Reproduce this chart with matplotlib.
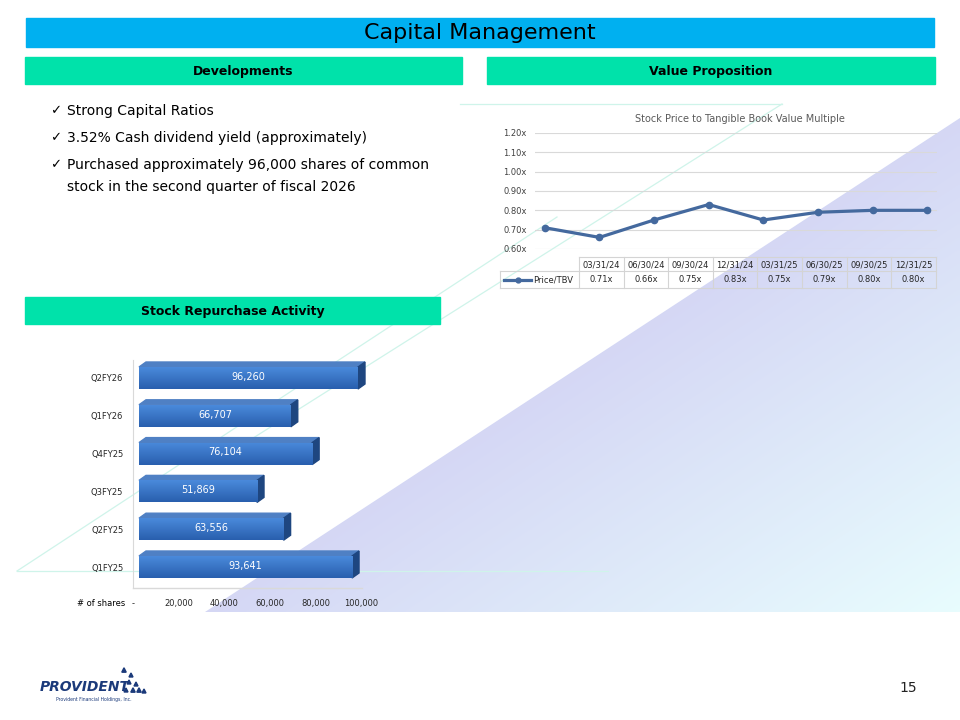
import matplotlib.pyplot as plt
import numpy as np
from matplotlib.patches import Rectangle, Polygon
from matplotlib.transforms import ScaledTranslation

W, H = 960, 720

# --- data ---
dates = ['03/31/24', '06/30/24', '09/30/24', '12/31/24',
         '03/31/25', '06/30/25', '09/30/25', '12/31/25']
ptbv = [0.71, 0.66, 0.75, 0.83, 0.75, 0.79, 0.80, 0.80]
ptbv_ticks = [0.60, 0.70, 0.80, 0.90, 1.00, 1.10, 1.20]

quarters = ['Q1FY25', 'Q2FY25', 'Q3FY25', 'Q4FY25', 'Q1FY26', 'Q2FY26']
shares = [93641, 63556, 51869, 76104, 66707, 96260]
share_ticks = [0, 20000, 40000, 60000, 80000, 100000]
share_tick_labels = ['-', '20,000', '40,000', '60,000', '80,000', '100,000']

bullets = ['Strong Capital Ratios',
           '3.52% Cash dividend yield (approximately)',
           'Purchased approximately 96,000 shares of common\nstock in the second quarter of fiscal 2026']

TITLE_BLUE = '#00B0F0'
HEAD_GREEN = '#00E2AA'
LINE_BLUE = '#44699E'
NAVY = '#1B3A7A'

fig = plt.figure(figsize=(9.6, 7.2), dpi=100)
bg = fig.add_axes([0, 0, 1, 1])
bg.set_xlim(0, W)
bg.set_ylim(H, 0)
bg.axis('off')


def px_axes(x0, y0, x1, y1):
    return fig.add_axes([x0 / W, 1 - y1 / H, (x1 - x0) / W, (y1 - y0) / H])


# background: lavender -> light cyan triangle
tri = Polygon([(205, 612), (960, 118), (960, 612)], closed=True,
              facecolor='none', edgecolor='none')
bg.add_patch(tri)
gx, gy = np.meshgrid(np.linspace(0, W, 240), np.linspace(0, H, 180))
t = np.clip((gx - 205) / 755 + (gy - 118) / 494 - 1, 0, 1)[..., None]
lav = np.array([0.835, 0.843, 0.960])
cyan = np.array([0.910, 0.990, 0.995])
img = lav * (1 - t) + cyan * t
im = bg.imshow(img, extent=(0, W, H, 0), origin='upper', zorder=0,
               interpolation='bilinear')
im.set_clip_path(tri)
bg.set_aspect('auto')
bg.set_xlim(0, W)
bg.set_ylim(H, 0)

# faint decorative lines
deco = '#CFF4EA'
bg.plot([17, 608], [571, 571], color=deco, lw=0.9, zorder=1)
bg.plot([17, 557], [571, 217], color=deco, lw=0.9, zorder=1)
bg.plot([250, 782], [440, 104], color=deco, lw=0.9, zorder=1)
bg.plot([460, 782], [104, 104], color=deco, lw=0.9, zorder=1)

# header bars
bg.add_patch(Rectangle((26, 18), 908, 29, color=TITLE_BLUE, zorder=2))
bg.text(480, 33, 'Capital Management', fontsize=16, ha='center', va='center', zorder=3)
for (x0, y0, x1, y1, label) in [(25, 57, 462, 84, 'Developments'),
                                (487, 57, 935, 84, 'Value Proposition'),
                                (25, 297, 440, 324, 'Stock Repurchase Activity')]:
    bg.add_patch(Rectangle((x0, y0), x1 - x0, y1 - y0, color=HEAD_GREEN, zorder=2))
    bg.text((x0 + x1) / 2, (y0 + y1) / 2 + 0.5, label, fontsize=9, fontweight='bold',
            ha='center', va='center', zorder=3)

# bullets
for yy, txt in zip([111, 138, 165], bullets):
    bg.text(50, yy, '\u2713', fontsize=9.5, ha='left', va='center')
    bg.text(67, yy - 7, txt, fontsize=10, ha='left', va='top', linespacing=1.75)

# --- line chart: Price/TBV ---
bg.text(740, 119, 'Stock Price to Tangible Book Value Multiple', fontsize=7,
        color='#595959', ha='center', va='center')
ax1 = px_axes(535, 133, 937, 249)
ax1.set_facecolor('none')
ax1.set_xlim(-0.18, len(dates) - 1 + 0.18)
ax1.set_ylim(0.6, 1.2)
ax1.set_yticks(ptbv_ticks)
ax1.set_yticklabels([f'{v:.2f}x' for v in ptbv_ticks], fontsize=6, color='#404040')
ax1.set_xticks([])
ax1.tick_params(axis='y', length=0, pad=6)
ax1.grid(axis='y', color='#D9D9D9', lw=0.8)
ax1.set_axisbelow(True)
for s in ax1.spines.values():
    s.set_visible(False)
ax1.plot(range(len(dates)), ptbv, color=LINE_BLUE, lw=2.3, marker='o', ms=4.5,
         clip_on=False)

# data table under the line chart
col_x = [579 + i * 44.6 for i in range(len(dates) + 1)]
grid_c = '#D4D4D4'
bg.plot([col_x[0], col_x[-1]], [257, 257], color=grid_c, lw=0.8)
bg.plot([500, col_x[-1]], [271, 271], color=grid_c, lw=0.8)
bg.plot([500, col_x[-1]], [288, 288], color=grid_c, lw=0.8)
bg.plot([500, 500], [271, 288], color=grid_c, lw=0.8)
for cx in col_x:
    bg.plot([cx, cx], [257, 288], color=grid_c, lw=0.8)
for i, (d, v) in enumerate(zip(dates, ptbv)):
    xc = (col_x[i] + col_x[i + 1]) / 2
    bg.text(xc, 264.5, d, fontsize=6, ha='center', va='center', color='#262626')
    bg.text(xc, 280, f'{v:.2f}x', fontsize=6, ha='center', va='center', color='#262626')
bg.plot([504, 531], [280, 280], color=LINE_BLUE, lw=2.3)
bg.plot([517.5], [280], marker='o', ms=3.5, color=LINE_BLUE)
bg.text(533, 280, 'Price/TBV', fontsize=6, ha='left', va='center', color='#262626')

# --- bar chart: stock repurchases ---
sc = 0.002275          # px per share
zero_px = 139
cat_px = 37.8          # px per category
ax2 = px_axes(133, 360, 373, 588)
ax2.set_facecolor('none')
xlim2 = (-(zero_px - 133) / sc, (373 - zero_px) / sc)
ylim2 = (-21 / cat_px, len(quarters) - 1 + 18 / cat_px)
ypos = np.arange(len(quarters))
bh = 22 / cat_px
dx = 7 / sc
dy = 5 / cat_px

# vertical gradient for the bar front faces
top_c = np.array([0.29, 0.54, 0.86])
bot_c = np.array([0.16, 0.37, 0.68])
g = np.linspace(0, 1, 64)[:, None, None]
grad = top_c * (1 - g) + bot_c * g

bars = ax2.barh(ypos, shares, height=bh, color='none', zorder=3)
for bar, y, v in zip(bars, ypos, shares):
    top = y + bh / 2
    bot = y - bh / 2
    ax2.add_patch(Polygon([(0, top), (dx, top + dy), (v + dx, top + dy), (v, top)],
                          closed=True, color='#4F80C4', zorder=2, clip_on=False))
    ax2.add_patch(Polygon([(v, bot), (v, top), (v + dx, top + dy), (v + dx, bot + dy)],
                          closed=True, color='#1E4680', zorder=2, clip_on=False))
    gi = ax2.imshow(grad, extent=(0, v, bot, top), origin='upper', aspect='auto',
                    interpolation='bilinear', zorder=3)
    gi.set_clip_path(bar)
    ax2.text(v / 2, y + 0.03, f'{v:,}', color='white', fontsize=7, ha='center',
             va='center', zorder=4)
ax2.set_xlim(*xlim2)
ax2.set_ylim(*ylim2)
ax2.set_yticks(ypos)
ax2.set_yticklabels(quarters, fontsize=6, color='#262626')
ax2.set_xticks(share_ticks)
ax2.set_xticklabels(share_tick_labels, fontsize=6, color='#262626')
ax2.tick_params(axis='y', length=0, pad=7)
ax2.tick_params(axis='x', length=0, pad=8)
off = ScaledTranslation(-5.5 / 100, 0, fig.dpi_scale_trans)
for lab in ax2.get_xticklabels():
    lab.set_transform(lab.get_transform() + off)
for name, s in ax2.spines.items():
    s.set_visible(name == 'left')
ax2.spines['left'].set_color('#D9D9D9')
ax2.axhline(ylim2[0], xmin=0, xmax=(362 - 133) / (373 - 133),
            color='#D9D9D9', lw=1, clip_on=False)
bg.text(125, 603, '# of shares', fontsize=6, ha='right', va='center', color='black')

# --- footer: logo and page number ---
bg.text(40, 687, 'PROVIDENT', fontsize=10, fontweight='bold', fontstyle='italic',
        color=NAVY, ha='left', va='center')
for (cx, cy, r) in [(124, 670, 2.2), (131, 675, 2.0), (129, 682, 2.0), (136, 684, 2.0),
                    (133, 690, 2.2), (139, 690, 2.2), (144, 691, 2.0), (126, 690, 2.0)]:
    bg.add_patch(Polygon([(cx - r, cy + r), (cx + r, cy + r), (cx, cy - r)],
                         closed=True, color=NAVY))
bg.text(94, 699, 'Provident Financial Holdings, Inc.', fontsize=3.3, color=NAVY,
        ha='center', va='center')
bg.text(908, 688, '15', fontsize=10, color='#222222', ha='center', va='center')

fig.savefig('out.png', dpi=100)
